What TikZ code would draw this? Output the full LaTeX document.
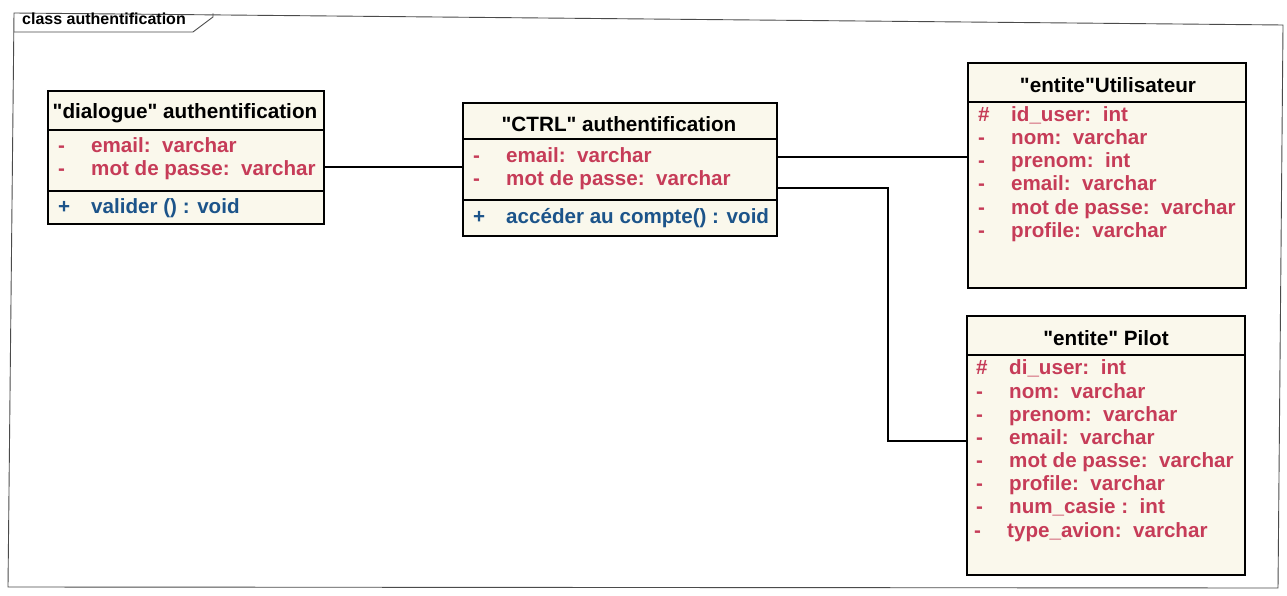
\documentclass[tikz,border=0pt]{standalone}
\usepackage{fontspec}
\setmainfont{Liberation Sans}[Ligatures=TeXOff]
\definecolor{boxfill}{RGB}{250,248,236}
\definecolor{attrcol}{RGB}{198,60,88}
\definecolor{opcol}{RGB}{28,84,138}
\definecolor{framecol}{RGB}{75,75,75}
% one attribute or operation row: name, left edge of the class, row centre, visibility, text
\newcommand\umlrow[6][attr]{%
  \node[#1] (#2s) at (#3+11,#4) {#5};
  \node[#1] (#2) at (#3+44,#4) {#6};}
\begin{document}
\begin{tikzpicture}[x=1pt,y=-1pt,
  classbox/.style={draw=black, line width=1.6pt, fill=boxfill, anchor=north west, inner sep=0pt},
  hdr/.style={font=\bfseries\fontsize{20.7}{24}\selectfont, text=black, inner sep=0pt, yshift=-2pt},
  attr/.style={font=\bfseries\fontsize{20.6}{24}\selectfont, text=attrcol, anchor=mid west, inner sep=0pt, yshift=-3pt},
  oper/.style={attr, text=opcol},
  divider/.style={line width=1.4pt, black},
  link/.style={line width=1.4pt, black},
  framed/.style={draw=framecol, line width=0.9pt}]
\useasboundingbox (0,0) rectangle (1287,596);

% diagram frame with its name tab
\draw[framed] (14,13) -- (1283,25) -- (1278,588) -- (8,587) -- cycle;
\draw[framed] (14,32) -- (193,32) -- (213,17) -- (213,13.5);
\node[font=\bfseries\fontsize{16}{18}\selectfont, anchor=mid west, inner sep=0pt] (title) at (22,22) {class authentification};

% "dialogue" authentification
\node[classbox, minimum width=276pt, minimum height=133pt] (dlg) at (47,90) {};
\draw[divider] (dlg.west |- 0,130) -- (dlg.east |- 0,130);
\draw[divider] (dlg.west |- 0,191) -- (dlg.east |- 0,191);
\node[hdr] (dlgT) at (185,111) {"dialogue" authentification};
\umlrow{d1}{47}{147}{-}{email:\ \ varchar}
\umlrow{d2}{47}{170}{-}{mot de passe:\ \ varchar}
\umlrow[oper]{d3}{47}{208}{+}{valider () : void}

% "CTRL" authentification
\node[classbox, minimum width=314pt, minimum height=133pt] (ctrl) at (462,102) {};
\draw[divider] (ctrl.west |- 0,139) -- (ctrl.east |- 0,139);
\draw[divider] (ctrl.west |- 0,200) -- (ctrl.east |- 0,200);
\node[hdr] (ctrlT) at (619,122) {"CTRL" authentification};
\umlrow{c1}{462}{157}{-}{email:\ \ varchar}
\umlrow{c2}{462}{180}{-}{mot de passe:\ \ varchar}
\umlrow[oper]{c3}{462}{218}{+}{accéder au compte() : void}

% "entite"Utilisateur
\node[classbox, minimum width=278pt, minimum height=225pt] (util) at (967,62) {};
\draw[divider] (util.west |- 0,102) -- (util.east |- 0,102);
\node[hdr] (utilT) at (1108,83) {"entite"Utilisateur};
\umlrow{u1}{967}{116}{\#}{id\_user:\ \ int}
\umlrow{u2}{967}{139}{-}{nom:\ \ varchar}
\umlrow{u3}{967}{162}{-}{prenom:\ \ int}
\umlrow{u4}{967}{185}{-}{email:\ \ varchar}
\umlrow{u5}{967}{209}{-}{mot de passe:\ \ varchar}
\umlrow{u6}{967}{232}{-}{profile:\ \ varchar}

% "entite" Pilot
\node[classbox, minimum width=278pt, minimum height=259pt] (pil) at (966,315) {};
\draw[divider] (pil.west |- 0,355) -- (pil.east |- 0,355);
\node[hdr] (pilT) at (1106,336) {"entite" Pilot};
\umlrow{p1}{965}{369}{\#}{di\_user:\ \ int}
\umlrow{p2}{965}{393}{-}{nom:\ \ varchar}
\umlrow{p3}{965}{416}{-}{prenom:\ \ varchar}
\umlrow{p4}{965}{439}{-}{email:\ \ varchar}
\umlrow{p5}{965}{462}{-}{mot de passe:\ \ varchar}
\umlrow{p6}{965}{485}{-}{profile:\ \ varchar}
\umlrow{p7}{965}{508}{-}{num\_casie :\ \ int}
\umlrow{p8}{963}{532}{-}{type\_avion:\ \ varchar}

% associations
\draw[link] (dlg.east |- 0,167) -- (ctrl.west |- 0,167);
\draw[link] (ctrl.east |- 0,157) -- (util.west |- 0,157);
\coordinate (bend) at (888,441);
\draw[link] (ctrl.east |- 0,188) -| (bend) -- (pil.west |- bend);
\end{tikzpicture}
\end{document}
